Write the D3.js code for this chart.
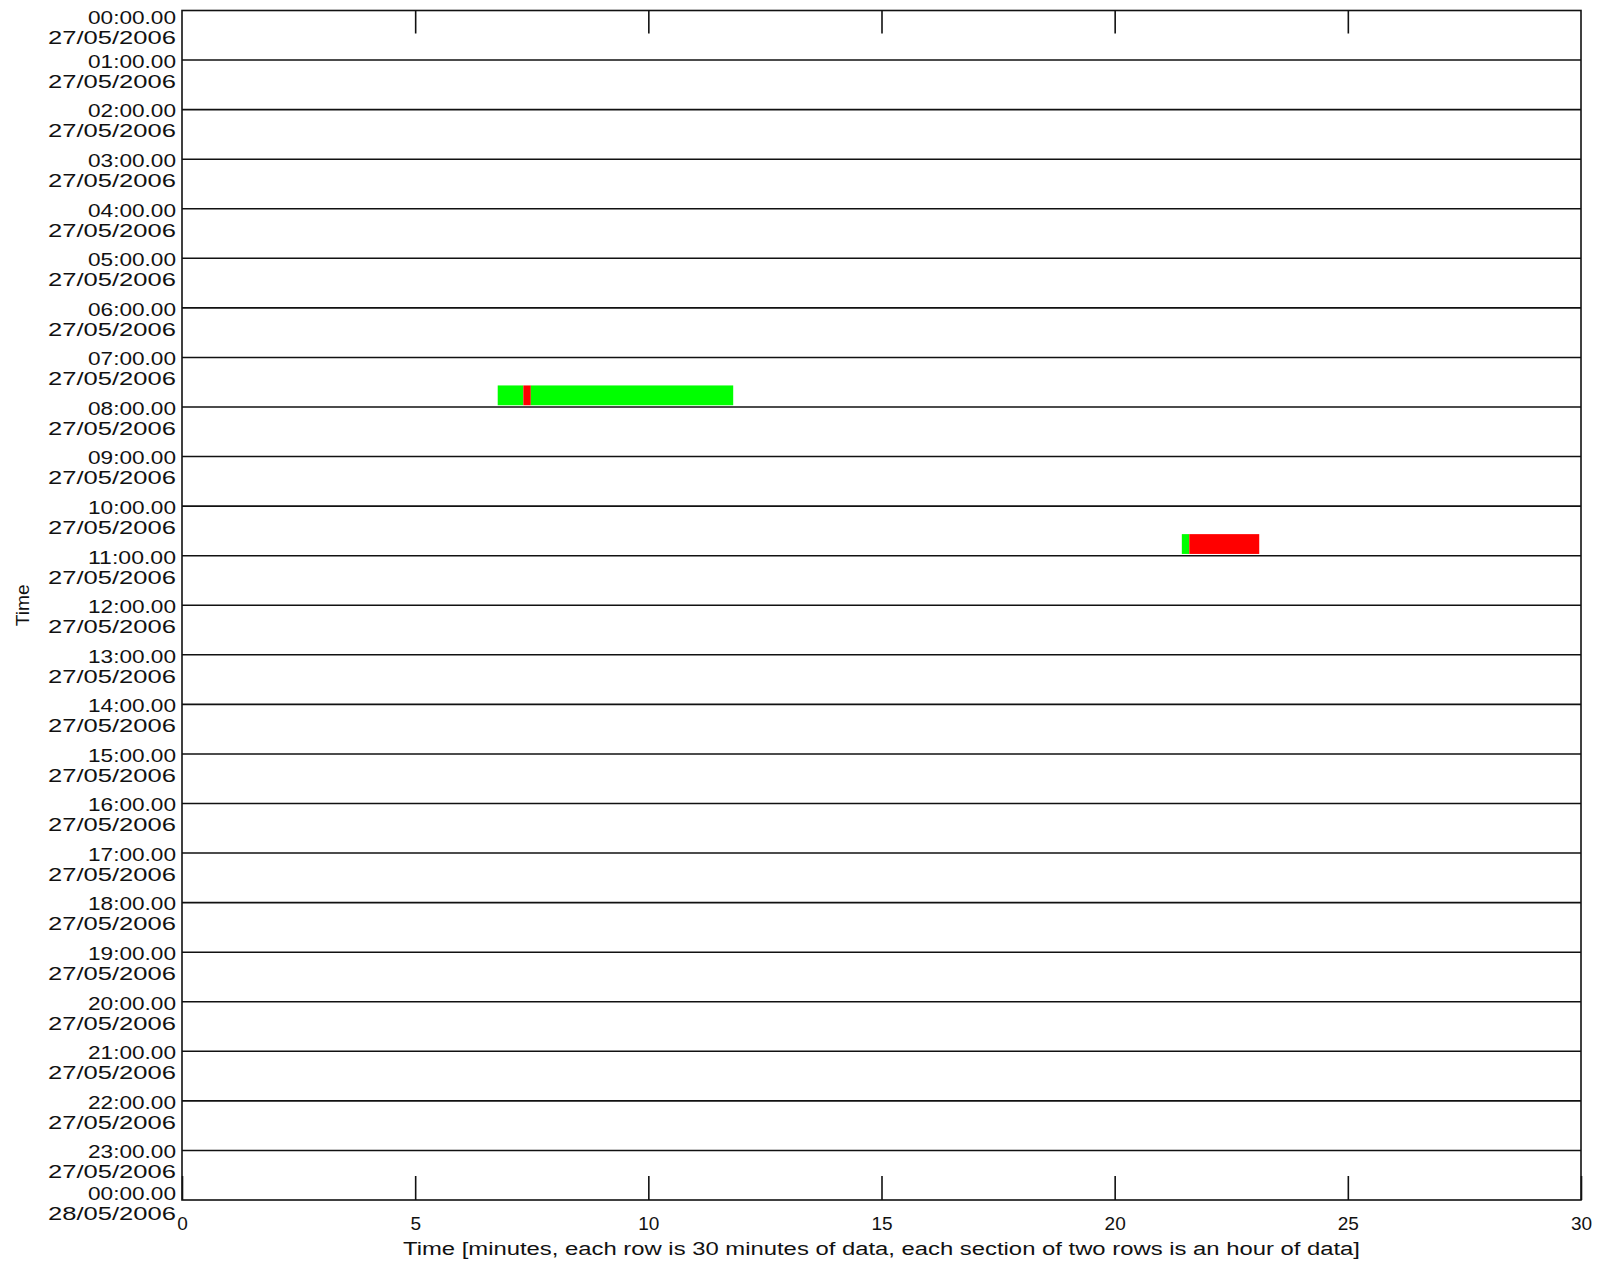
<!DOCTYPE html>
<html>
<head>
<meta charset="utf-8">
<script src="https://cdn.jsdelivr.net/npm/d3@7"></script>
<style>
  body { margin: 0; background: #fff; }
  svg { display: block; }
</style>
</head>
<body>
<div id="graph"></div>
<script>
// hour labels down the left side (one per section boundary)
const hourLabels = [
  "00:00.00", "01:00.00", "02:00.00", "03:00.00", "04:00.00", "05:00.00",
  "06:00.00", "07:00.00", "08:00.00", "09:00.00", "10:00.00", "11:00.00",
  "12:00.00", "13:00.00", "14:00.00", "15:00.00", "16:00.00", "17:00.00",
  "18:00.00", "19:00.00", "20:00.00", "21:00.00", "22:00.00", "23:00.00",
  "00:00.00"
];
const dateLabels = [
  "27/05/2006", "27/05/2006", "27/05/2006", "27/05/2006", "27/05/2006",
  "27/05/2006", "27/05/2006", "27/05/2006", "27/05/2006", "27/05/2006",
  "27/05/2006", "27/05/2006", "27/05/2006", "27/05/2006", "27/05/2006",
  "27/05/2006", "27/05/2006", "27/05/2006", "27/05/2006", "27/05/2006",
  "27/05/2006", "27/05/2006", "27/05/2006", "27/05/2006", "28/05/2006"
];
const minuteTicks = [0, 5, 10, 15, 20, 25, 30];

// data segments: half-hour row index, start / end minute within row, status
const segRow = [15, 15, 15, 21, 21];
const segStart = [6.77, 7.32, 7.48, 21.44, 21.6];
const segEnd = [7.32, 7.48, 11.82, 21.6, 23.1];
const segStatus = ["good", "bad", "good", "good", "bad"];

function createChart() {
  const width = 1604;
  const height = 1265;
  const left = 182, right = 1581, top = 10.5, bottom = 1200;
  const ink = "#111";
  const font = "'Liberation Sans', Arial, sans-serif";
  const statusColor = { good: "#00ff00", bad: "#ff0000" };

  const svg = d3
    .select("#graph")
    .append("svg")
    .attr("width", width)
    .attr("height", height)
    .attr("style", `font-family: ${font}; fill: ${ink};`);

  const x = d3.scaleLinear().domain([0, 30]).range([left, right]);
  const y = d3.scaleLinear().domain([0, 24]).range([top, bottom]);
  const rowH = (y(1) - y(0)) / 2;

  // bars
  const segs = segRow.map((r, i) => ({
    row: r,
    start: segStart[i],
    end: segEnd[i],
    status: segStatus[i]
  }));

  svg
    .append("g")
    .selectAll("rect")
    .data(segs)
    .join("rect")
    .attr("x", (d) => x(d.start))
    .attr("width", (d) => x(d.end) - x(d.start))
    .attr("y", (d) => y(d.row / 2) + rowH * 0.13)
    .attr("height", rowH * 0.8)
    .attr("fill", (d) => statusColor[d.status]);

  // hour section lines
  svg
    .append("g")
    .selectAll("line")
    .data(d3.range(1, 24))
    .join("line")
    .attr("x1", left)
    .attr("x2", right)
    .attr("y1", (d) => y(d))
    .attr("y2", (d) => y(d))
    .attr("stroke", ink)
    .attr("stroke-width", 1.6);

  // frame
  svg
    .append("rect")
    .attr("x", left)
    .attr("y", top)
    .attr("width", right - left)
    .attr("height", bottom - top)
    .attr("fill", "none")
    .attr("stroke", ink)
    .attr("stroke-width", 1.6);

  // bottom axis, ticks pointing inward
  const xBottom = svg
    .append("g")
    .attr("transform", `translate(0,${bottom})`)
    .call(
      d3.axisBottom(x)
        .tickValues(minuteTicks)
        .tickSizeInner(-24)
        .tickSizeOuter(0)
        .tickPadding(17)
        .tickFormat(d3.format("d"))
    );
  xBottom.select(".domain").remove();
  xBottom.selectAll(".tick line").attr("stroke", ink).attr("stroke-width", 1.6);
  xBottom
    .selectAll(".tick text")
    .attr("fill", ink)
    .attr("font-family", font)
    .attr("font-size", 19);

  // top axis, ticks only
  const xTop = svg
    .append("g")
    .attr("transform", `translate(0,${top})`)
    .call(
      d3.axisTop(x)
        .tickValues(minuteTicks.slice(1, -1))
        .tickSizeInner(-23)
        .tickSizeOuter(0)
        .tickFormat("")
    );
  xTop.select(".domain").remove();
  xTop.selectAll(".tick line").attr("stroke", ink).attr("stroke-width", 1.6);

  // left time labels, two lines each
  const labels = svg
    .append("g")
    .attr("text-anchor", "end")
    .attr("font-size", 19)
    .selectAll("g")
    .data(hourLabels.map((h, i) => ({ h, date: dateLabels[i], i })))
    .join("g")
    .attr("transform", (d) => {
      let off = 1;
      if (d.i === 0) off = 7;
      if (d.i === hourLabels.length - 1) off = -7;
      return `translate(176,${y(d.i) + off})`;
    });

  labels
    .append("text")
    .attr("dy", "0.36em")
    .attr("textLength", 88)
    .attr("lengthAdjust", "spacingAndGlyphs")
    .text((d) => d.h);

  labels
    .append("text")
    .attr("y", 20)
    .attr("dy", "0.36em")
    .attr("textLength", 128)
    .attr("lengthAdjust", "spacingAndGlyphs")
    .text((d) => d.date);

  // axis titles
  svg
    .append("text")
    .attr("x", (left + right) / 2)
    .attr("y", 1249)
    .attr("dy", "0.36em")
    .attr("text-anchor", "middle")
    .attr("font-size", 18)
    .attr("textLength", 957)
    .attr("lengthAdjust", "spacingAndGlyphs")
    .text(
      "Time [minutes, each row is 30 minutes of data, each section of two rows is an hour of data]"
    );

  svg
    .append("text")
    .attr("transform", `translate(23,${(top + bottom) / 2}) rotate(-90)`)
    .attr("dy", "0.36em")
    .attr("text-anchor", "middle")
    .attr("font-size", 18)
    .attr("textLength", 42)
    .attr("lengthAdjust", "spacingAndGlyphs")
    .text("Time");
}

document.addEventListener("DOMContentLoaded", createChart);
</script>
</body>
</html>
